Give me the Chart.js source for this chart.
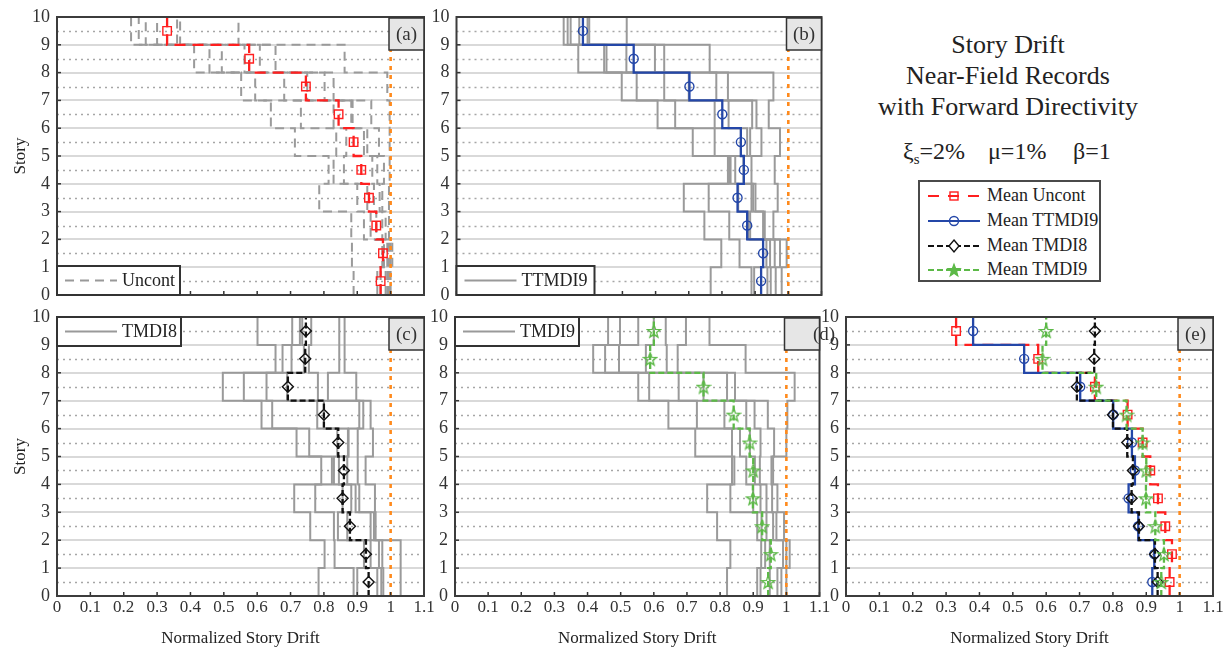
<!DOCTYPE html>
<html>
<head>
<meta charset="utf-8">
<title>Story Drift - Near-Field Records</title>
<script src="https://cdn.jsdelivr.net/npm/chart.js@4.4.0/dist/chart.umd.min.js"></script>
<style>
    body { margin: 0; background: #fff; width: 1226px; height: 657px; position: relative; overflow: hidden;
           font-family: 'Liberation Serif', 'Times New Roman', serif; color: #222; }
    canvas { position: absolute; }
    .title { position: absolute; left: 858px; width: 300px; top: 29px; text-align: center; font-size: 26px; line-height: 31px; }
    .param { position: absolute; top: 136px; font-size: 24px; line-height: 30px; white-space: nowrap; }
    .param sub { font-size: 15px; vertical-align: -5px; line-height: 0; }
    .legend { position: absolute; left: 918px; top: 180px; width: 179px; height: 98px; border: 2px solid #4a4a4a; background: #fff; }
    .legend div { position: absolute; left: 8px; height: 25px; display: flex; align-items: center; font-size: 18px; white-space: nowrap; }
    .legend svg { margin-right: 5px; }
</style>
</head>
<body>
<canvas id="pa" width="440" height="306" style="left:0;top:0"></canvas>
<canvas id="pb" width="410" height="306" style="left:430px;top:0"></canvas>
<canvas id="pc" width="440" height="357" style="left:0;top:300px"></canvas>
<canvas id="pd" width="410" height="357" style="left:430px;top:300px"></canvas>
<canvas id="pe" width="411" height="357" style="left:815px;top:300px"></canvas>

<div class="title">Story Drift<br>Near-Field Records<br>with Forward Directivity</div>
<div class="param" style="left:903px">ξ<sub>s</sub>=2%</div>
<div class="param" style="left:988px">μ=1%</div>
<div class="param" style="left:1073px">β=1</div>
<div class="legend">
    <div style="top:1px"><svg width="54" height="16"><line x1="0" y1="8" x2="52" y2="8" stroke="#ff1f1f" stroke-width="2.2" stroke-dasharray="11 9"/><rect x="22" y="4" width="8" height="8" fill="none" stroke="#ff1f1f" stroke-width="1.4"/></svg>Mean Uncont</div>
    <div style="top:26px"><svg width="54" height="16"><line x1="0" y1="8" x2="52" y2="8" stroke="#2447a8" stroke-width="2.2"/><circle cx="26" cy="8" r="4.5" fill="none" stroke="#2447a8" stroke-width="1.4"/></svg>Mean TTMDI9</div>
    <div style="top:51px"><svg width="54" height="16"><line x1="0" y1="8" x2="52" y2="8" stroke="#111" stroke-width="2" stroke-dasharray="6 3"/><polygon points="26,2 31,8 26,14 21,8" fill="#fff" stroke="#111" stroke-width="1.4"/></svg>Mean TMDI8</div>
    <div style="top:75px"><svg width="54" height="16"><line x1="0" y1="8" x2="52" y2="8" stroke="#5cb947" stroke-width="2" stroke-dasharray="6 3"/><polygon id="starPoly" fill="#5cb947" stroke="#5cb947" stroke-width="1.2"/></svg>Mean TMDI9</div>
</div>

<script>
// stories and axis tick labels
const stories = [1, 2, 3, 4, 5, 6, 7, 8, 9, 10];
const xTickLabels = ['0', '0.1', '0.2', '0.3', '0.4', '0.5', '0.6', '0.7', '0.8', '0.9', '1', '1.1'];
const yTickLabels = ['0', '1', '2', '3', '4', '5', '6', '7', '8', '9', '10'];
const limitDrift = 1;

// normalized drift of each record: one row per story (1 -> 10), one column per record
const uncontDrift = [
    [0.889, 0.960, 0.970, 0.985, 0.990, 0.995, 1.000],
    [0.884, 0.975, 0.980, 0.990, 0.995, 1.000, 1.005],
    [0.882, 0.920, 0.940, 0.957, 0.975, 0.985, 0.995],
    [0.786, 0.900, 0.930, 0.950, 0.967, 0.975, 0.995],
    [0.814, 0.829, 0.860, 0.945, 0.960, 0.980, 0.997],
    [0.713, 0.837, 0.867, 0.920, 0.930, 0.965, 0.997],
    [0.641, 0.731, 0.829, 0.882, 0.886, 0.942, 0.997],
    [0.552, 0.594, 0.681, 0.750, 0.802, 0.829, 0.990],
    [0.411, 0.457, 0.494, 0.562, 0.608, 0.655, 0.862],
    [0.222, 0.245, 0.266, 0.300, 0.360, 0.369, 0.544]
];
const ttmdi9Drift = [
    [0.766, 0.889, 0.897, 0.937, 0.947, 0.962, 0.980],
    [0.798, 0.853, 0.934, 0.945, 0.959, 0.975, 0.995],
    [0.747, 0.822, 0.879, 0.885, 0.924, 0.929, 0.955],
    [0.685, 0.760, 0.849, 0.889, 0.894, 0.901, 0.968],
    [0.818, 0.822, 0.826, 0.840, 0.865, 0.889, 0.959],
    [0.712, 0.778, 0.857, 0.876, 0.885, 0.919, 0.975],
    [0.606, 0.659, 0.778, 0.820, 0.891, 0.904, 0.941],
    [0.498, 0.543, 0.626, 0.700, 0.783, 0.818, 0.955],
    [0.367, 0.445, 0.452, 0.512, 0.598, 0.626, 0.763],
    [0.323, 0.335, 0.344, 0.370, 0.395, 0.400, 0.513]
];
const tmdi8Drift = [
    [0.784, 0.889, 0.900, 0.960, 0.972, 0.978, 1.030],
    [0.802, 0.832, 0.920, 0.940, 0.965, 0.975, 1.030],
    [0.759, 0.830, 0.842, 0.870, 0.940, 0.950, 0.955],
    [0.711, 0.774, 0.856, 0.882, 0.895, 0.906, 0.953],
    [0.792, 0.824, 0.830, 0.845, 0.870, 0.900, 0.925],
    [0.718, 0.756, 0.840, 0.872, 0.874, 0.902, 0.947],
    [0.613, 0.645, 0.780, 0.800, 0.906, 0.918, 0.940],
    [0.497, 0.560, 0.628, 0.690, 0.782, 0.812, 0.897],
    [0.655, 0.676, 0.703, 0.740, 0.755, 0.846, 0.862],
    [0.601, 0.705, 0.728, 0.735, 0.762, 0.846, 0.862]
];
const tmdi9Drift = [
    [0.821, 0.912, 0.922, 0.950, 0.973, 0.985, 1.000],
    [0.831, 0.924, 0.936, 0.950, 0.990, 1.000, 1.010],
    [0.791, 0.912, 0.925, 0.940, 0.960, 0.970, 0.993],
    [0.761, 0.831, 0.900, 0.922, 0.940, 0.957, 0.973],
    [0.836, 0.843, 0.879, 0.905, 0.920, 0.955, 0.960],
    [0.725, 0.836, 0.860, 0.890, 0.922, 0.963, 1.000],
    [0.644, 0.730, 0.813, 0.879, 0.904, 0.944, 1.003],
    [0.553, 0.586, 0.675, 0.750, 0.821, 0.845, 1.025],
    [0.417, 0.453, 0.495, 0.576, 0.639, 0.672, 0.877],
    [0.462, 0.498, 0.553, 0.600, 0.636, 0.697, 0.768]
];

// mean drift per story (1 -> 10)
const meanUncont = [0.970, 0.977, 0.957, 0.935, 0.912, 0.889, 0.844, 0.746, 0.576, 0.330];
const meanTTMDI9 = [0.918, 0.924, 0.876, 0.847, 0.866, 0.857, 0.801, 0.702, 0.534, 0.381];
const meanTMDI8 = [0.934, 0.926, 0.878, 0.856, 0.860, 0.843, 0.800, 0.692, 0.744, 0.746];
const meanTMDI9 = [0.945, 0.953, 0.927, 0.899, 0.900, 0.889, 0.841, 0.750, 0.589, 0.600];

const FONT = "Liberation Serif";
Chart.defaults.font.family = FONT;
Chart.defaults.color = '#333';

function starPath(cx, cy, ro, ri) {
    const pts = [];
    for (let k = 0; k < 10; k++) {
        const r = k % 2 ? ri : ro;
        const ang = -Math.PI / 2 + k * Math.PI / 5;
        pts.push([cx + r * Math.cos(ang), cy + r * Math.sin(ang)]);
    }
    return pts;
}

function makeStar(color) {
    const c = document.createElement('canvas');
    c.width = 16; c.height = 16;
    const g = c.getContext('2d');
    g.strokeStyle = color;
    g.lineWidth = 1.3;
    g.beginPath();
    starPath(8, 8.6, 6.8, 2.8).forEach((p, k) => k ? g.lineTo(p[0], p[1]) : g.moveTo(p[0], p[1]));
    g.closePath();
    g.stroke();
    return c;
}

document.getElementById('starPoly').setAttribute('points',
    starPath(26, 8.6, 6.5, 2.7).map(p => p[0].toFixed(1) + ',' + p[1].toFixed(1)).join(' '));

const meanSeries = {
    uncont: { values: meanUncont, color: '#ff1f1f', dash: [11, 7], style: 'rect', radius: 6, order: 4 },
    ttmdi9: { values: meanTTMDI9, color: '#2447a8', dash: [], style: 'circle', radius: 4.5, order: 3 },
    tmdi8: { values: meanTMDI8, color: '#111111', dash: [6, 3], style: 'rectRot', radius: 5.5, order: 2 },
    tmdi9: { values: meanTMDI9, color: '#5cb947', dash: [6, 3], style: makeStar('#5cb947'), radius: 7, order: 1 }
};

// vertical segment per story, joined at the floor levels
function stepPoints(vals) {
    const pts = [];
    vals.forEach((v, i) => {
        pts.push({ x: v, y: stories[i] - 1 }, { x: v, y: stories[i] });
    });
    return pts;
}

function markerPoints(vals) {
    return vals.map((v, i) => ({ x: v, y: stories[i] - 0.5 }));
}

function recordColumns(rows) {
    return rows[0].map((_, k) => rows.map(r => r[k]));
}

const decor = {
    id: 'decor',
    beforeDatasetsDraw(chart) {
        const { ctx, chartArea: a, scales: { y } } = chart;
        ctx.save();
        ctx.strokeStyle = '#a6a6a6';
        ctx.lineWidth = 1.5;
        ctx.setLineDash([2, 4]);
        stories.forEach(s => {
            const py = Math.round(y.getPixelForValue(s - 0.5)) + 0.5;
            ctx.beginPath();
            ctx.moveTo(a.left, py);
            ctx.lineTo(a.right, py);
            ctx.stroke();
        });
        ctx.restore();
    },
    afterDatasetsDraw(chart, args, o) {
        const { ctx, chartArea: a, scales: { x, y } } = chart;
        ctx.save();
        // inward tick marks
        ctx.strokeStyle = '#333';
        ctx.lineWidth = 1.5;
        x.ticks.forEach(t => {
            const px = x.getPixelForValue(t.value);
            ctx.beginPath(); ctx.moveTo(px, a.bottom); ctx.lineTo(px, a.bottom - 4); ctx.stroke();
        });
        y.ticks.forEach(t => {
            const py = y.getPixelForValue(t.value);
            ctx.beginPath(); ctx.moveTo(a.left, py); ctx.lineTo(a.left + 4, py); ctx.stroke();
        });
        // axes box
        ctx.strokeStyle = '#3c3c3c';
        ctx.lineWidth = 2;
        ctx.strokeRect(a.left, a.top, a.right - a.left, a.bottom - a.top);

        // record legend
        if (o.legend) {
            const L = o.legend, h = 29;
            const y0 = L.at === 'top' ? a.top : a.bottom - h;
            ctx.fillStyle = '#fff';
            ctx.fillRect(a.left, y0, L.w, h);
            ctx.strokeStyle = '#333';
            ctx.lineWidth = 2;
            ctx.strokeRect(a.left, y0, L.w, h);
            ctx.strokeStyle = '#999';
            ctx.setLineDash(o.dash);
            ctx.beginPath();
            ctx.moveTo(a.left + 8, y0 + h / 2);
            ctx.lineTo(a.left + 60, y0 + h / 2);
            ctx.stroke();
            ctx.setLineDash([]);
            ctx.fillStyle = '#222';
            ctx.font = '18px "' + FONT + '"';
            ctx.textBaseline = 'middle';
            ctx.fillText(L.text, a.left + 65, y0 + h / 2 + 1);
        }

        // panel letter
        const bw = 35, bh = 32;
        ctx.fillStyle = '#e6e6e6';
        ctx.fillRect(a.right - bw, a.top + 1, bw, bh);
        ctx.strokeStyle = '#333';
        ctx.lineWidth = 1.5;
        ctx.strokeRect(a.right - bw, a.top + 1, bw, bh);
        ctx.fillStyle = '#333';
        ctx.font = '19px "' + FONT + '"';
        ctx.textAlign = 'center';
        ctx.textBaseline = 'middle';
        ctx.fillText(o.label, a.right - bw / 2 + (o.labelDx || 0), a.top + 1 + bh / 2 + 1);
        ctx.restore();
    }
};

const panels = [
    { id: 'pa', yWidth: 57, padRight: 16, bottomRow: false, yTitle: true, rows: uncontDrift, dash: [9, 6],
      means: ['uncont'], label: '(a)', legend: { text: 'Uncont', at: 'bottom', w: 123 } },
    { id: 'pb', yWidth: 26.5, padRight: 18.5, bottomRow: false, yTitle: false, rows: ttmdi9Drift, dash: [],
      means: ['ttmdi9'], label: '(b)', legend: { text: 'TTMDI9', at: 'bottom', w: 138 } },
    { id: 'pc', yWidth: 57, padRight: 16, bottomRow: true, yTitle: true, rows: tmdi8Drift, dash: [],
      means: ['tmdi8'], label: '(c)', legend: { text: 'TMDI8', at: 'top', w: 124 } },
    { id: 'pd', yWidth: 25, padRight: 20.5, bottomRow: true, yTitle: false, rows: tmdi9Drift, dash: [],
      means: ['tmdi9'], label: '(d)', labelDx: 22, legend: { text: 'TMDI9', at: 'top', w: 124 } },
    { id: 'pe', yWidth: 31, padRight: 13, bottomRow: true, yTitle: false, rows: null, dash: [],
      means: ['uncont', 'ttmdi9', 'tmdi8', 'tmdi9'], label: '(e)', legend: null }
];

panels.forEach(p => {
    const datasets = [];

    if (p.rows) {
        recordColumns(p.rows).forEach(rec => {
            datasets.push({
                data: stepPoints(rec), showLine: true, borderColor: '#9a9a9a', borderWidth: 2,
                borderDash: p.dash, pointRadius: 0, order: 6
            });
        });
    }

    p.means.forEach(key => {
        const m = meanSeries[key];
        datasets.push({
            data: stepPoints(m.values), showLine: true, borderColor: m.color, borderWidth: 2.3,
            borderDash: m.dash, pointRadius: 0, order: m.order
        });
        datasets.push({
            data: markerPoints(m.values), showLine: false, pointStyle: m.style, pointRadius: m.radius,
            pointBorderColor: m.color, pointBackgroundColor: 'rgba(0,0,0,0)', pointBorderWidth: 1.4,
            order: m.order
        });
    });

    // reference line at drift = 1
    datasets.push({
        data: [{ x: limitDrift, y: 0 }, { x: limitDrift, y: stories.length }], showLine: true,
        borderColor: '#ff8a1c', borderWidth: 2.6, borderDash: [4, 5], pointRadius: 0, order: -1
    });

    new Chart(document.getElementById(p.id), {
        type: 'scatter',
        data: { datasets },
        plugins: [decor],
        options: {
            responsive: false,
            animation: false,
            events: [],
            layout: { padding: { top: 17, right: p.padRight, left: 0, bottom: 0 } },
            plugins: {
                legend: { display: false },
                tooltip: { enabled: false },
                decor: { label: p.label, labelDx: p.labelDx, legend: p.legend, dash: p.dash }
            },
            scales: {
                x: {
                    type: 'linear', min: 0, max: 1.1,
                    ticks: {
                        stepSize: 0.1, display: p.bottomRow, autoSkip: false, maxRotation: 0, padding: 1,
                        font: { family: FONT, size: 17 }, color: '#333',
                        callback: (v, i) => xTickLabels[i]
                    },
                    grid: { display: false, drawTicks: false },
                    border: { display: false },
                    title: {
                        display: p.bottomRow, text: 'Normalized Story Drift', color: '#222',
                        font: { family: FONT, size: 17 }, padding: { top: 0, bottom: 8 }
                    },
                    afterFit: s => {
                        s.height = p.bottomRow ? 61 : 11;
                        s.paddingLeft = 0;
                        s.paddingRight = 0;
                    }
                },
                y: {
                    type: 'linear', min: 0, max: stories.length,
                    ticks: {
                        stepSize: 1, padding: 7, font: { family: FONT, size: 18 }, color: '#333',
                        callback: v => yTickLabels[v]
                    },
                    grid: { color: '#d9d9d9', lineWidth: 2, drawTicks: false },
                    border: { display: false },
                    title: {
                        display: p.yTitle, text: 'Story', color: '#222',
                        font: { family: FONT, size: 17 }, padding: { top: 10, bottom: 0 }
                    },
                    afterFit: s => {
                        s.width = p.yWidth;
                        s.paddingTop = 0;
                        s.paddingBottom = 0;
                    }
                }
            }
        }
    });
});
</script>
</body>
</html>
